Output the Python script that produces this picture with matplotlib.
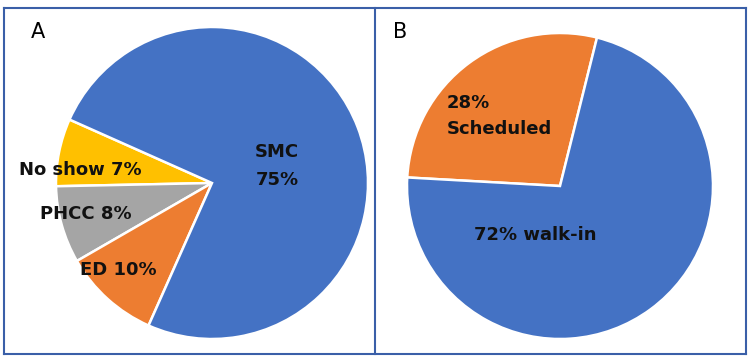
import matplotlib.pyplot as plt
from matplotlib.lines import Line2D

# ==== Data ====
labels_a = ["No show", "PHCC", "ED", "SMC"]
values_a = [7, 8, 10, 75]
colors_a = ["#FFC000", "#A5A5A5", "#ED7D31", "#4472C4"]

labels_b = ["Scheduled", "walk-in"]
values_b = [28, 72]
colors_b = ["#ED7D31", "#4472C4"]

W, H = 750, 361

fig = plt.figure(figsize=(7.5, 3.61), dpi=100)
ax = fig.add_axes([0, 0, 1, 1])

def y(v):
    return H - v

# ==== Pies ====
ax.pie(values_a, colors=colors_a, startangle=156, counterclock=True,
       center=(212, y(183)), radius=156, frame=True,
       wedgeprops=dict(edgecolor="white", linewidth=1.8))
ax.pie(values_b, colors=colors_b, startangle=76, counterclock=True,
       center=(560, y(186)), radius=153, frame=True,
       wedgeprops=dict(edgecolor="white", linewidth=1.8))
ax.set_xlim(0, W)
ax.set_ylim(0, H)
ax.set_aspect("equal")
ax.axis("off")

# ==== Frame ====
fc = "#3A5FA8"
for xs, ys in [([4, 746], [y(8), y(8)]), ([4, 746], [y(354), y(354)]),
               ([4, 4], [y(8), y(354)]), ([746, 746], [y(8), y(354)]),
               ([375, 375], [y(8), y(354)])]:
    ax.add_line(Line2D(xs, ys, color=fc, linewidth=1.5))

# ==== Labels ====
bold = dict(fontsize=13, fontweight="bold", color="#111111", family="DejaVu Sans")
ax.text(38, y(32), "A", fontsize=15, ha="center", va="center")
ax.text(400, y(32), "B", fontsize=15, ha="center", va="center")

ax.text(277, y(166), f"{labels_a[3]}\n{values_a[3]}%", ha="center", va="center",
        linespacing=1.7, **bold)
ax.text(80, y(170), f"{labels_a[0]} {values_a[0]}%", ha="center", va="center", **bold)
ax.text(86, y(214), f"{labels_a[1]} {values_a[1]}%", ha="center", va="center", **bold)
ax.text(118, y(270), f"{labels_a[2]} {values_a[2]}%", ha="center", va="center", **bold)

ax.text(447, y(116), f"{values_b[0]}%\n{labels_b[0]}", ha="left", va="center",
        linespacing=1.6, **bold)
ax.text(535, y(235), f"{values_b[1]}% {labels_b[1]}", ha="center", va="center", **bold)

fig.savefig("out.png", dpi=100)
